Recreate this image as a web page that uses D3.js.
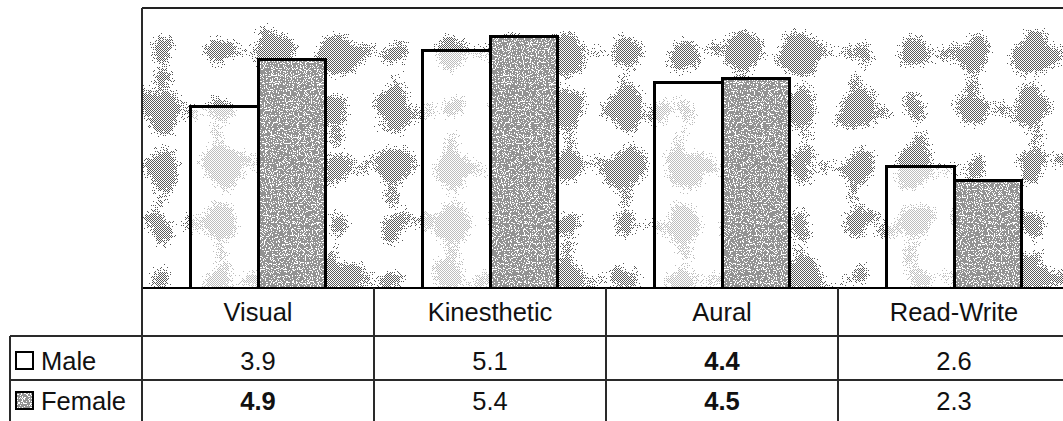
<!DOCTYPE html>
<html>
<head>
<meta charset="utf-8">
<script src="https://cdn.jsdelivr.net/npm/d3@7"></script>
<style>
  html, body { margin: 0; padding: 0; background: #fff; }
  svg { display: block; }
  text { font-family: "Liberation Sans", Arial, sans-serif; fill: #111; }
</style>
</head>
<body>
<svg id="chart" width="1063" height="421" shape-rendering="crispEdges"></svg>
<script>
// Learning-style scores by gender
const categories = ["Visual", "Kinesthetic", "Aural", "Read-Write"];
const seriesNames = ["Male", "Female"];
const maleValues = [3.9, 5.1, 4.4, 2.6];
const femaleValues = [4.9, 5.4, 4.5, 2.3];
const valueLabels = {
  Male: ["3.9", "5.1", "4.4", "2.6"],
  Female: ["4.9", "5.4", "4.5", "2.3"]
};
// value cells printed in heavier type
const boldCells = {
  Male: [false, false, true, false],
  Female: [true, false, true, false]
};
const yDomain = [0, 6];

const W = 1063, H = 421;
const plot = { left: 142, right: 1070, top: 8, bottom: 288 };
const table = { left: 10, headerBottom: 336, maleBottom: 380, bottom: 421 };

const svg = d3.select("#chart");
const defs = svg.append("defs");

// ---- textures ----
// 1px checkerboard used to dither the grey fills
const checker = defs.append("pattern").attr("id", "checker")
  .attr("patternUnits", "userSpaceOnUse").attr("width", 2).attr("height", 2);
checker.append("rect").attr("x", 0).attr("y", 0).attr("width", 1).attr("height", 1).attr("fill", "#fff");
checker.append("rect").attr("x", 1).attr("y", 1).attr("width", 1).attr("height", 1).attr("fill", "#fff");
defs.append("mask").attr("id", "ditherMask")
  .attr("maskUnits", "userSpaceOnUse").attr("x", 0).attr("y", 0).attr("width", W).attr("height", H)
  .append("rect").attr("x", 0).attr("y", 0).attr("width", W).attr("height", H)
  .attr("fill", "url(#checker)");

// mottled backdrop of the plot area
const bgF = defs.append("filter").attr("id", "mottle")
  .attr("filterUnits", "userSpaceOnUse")
  .attr("x", plot.left).attr("y", plot.top)
  .attr("width", plot.right - plot.left).attr("height", plot.bottom - plot.top);
bgF.append("feTurbulence").attr("type", "fractalNoise")
  .attr("baseFrequency", "0.04").attr("numOctaves", 2).attr("seed", 7).attr("result", "warp");
bgF.append("feDisplacementMap").attr("in", "SourceGraphic").attr("in2", "warp")
  .attr("scale", 30).attr("xChannelSelector", "R").attr("yChannelSelector", "G").attr("result", "blobs");
bgF.append("feGaussianBlur").attr("in", "blobs").attr("stdDeviation", 4).attr("result", "soft");
bgF.append("feTurbulence").attr("type", "fractalNoise")
  .attr("baseFrequency", "0.9").attr("numOctaves", 1).attr("seed", 3).attr("result", "grain");
bgF.append("feColorMatrix").attr("in", "grain").attr("type", "matrix")
  .attr("values", "0 0 0 0 0  0 0 0 0 0  0 0 0 0 0  3 0 0 0 -1").attr("result", "grainA");
bgF.append("feComposite").attr("in", "soft").attr("in2", "grainA").attr("operator", "arithmetic")
  .attr("k1", 0).attr("k2", 0.8).attr("k3", 0.5).attr("k4", -0.05).attr("result", "mix");
bgF.append("feComponentTransfer").attr("in", "mix").attr("result", "dots")
  .append("feFuncA").attr("type", "discrete").attr("tableValues", "0 0 1 1");
bgF.append("feFlood").attr("flood-color", "#5a5a5a").attr("result", "ink");
bgF.append("feComposite").attr("in", "ink").attr("in2", "dots").attr("operator", "in");

// grain used on the Female bars
const grainF = defs.append("filter").attr("id", "grain")
  .attr("x", 0).attr("y", 0).attr("width", 1).attr("height", 1);
grainF.append("feTurbulence").attr("type", "fractalNoise")
  .attr("baseFrequency", "0.85").attr("numOctaves", 1).attr("seed", 11).attr("result", "n");
grainF.append("feColorMatrix").attr("in", "n").attr("type", "matrix")
  .attr("values", "0 0 0 0 0  0 0 0 0 0  0 0 0 0 0  0 0 0 -2.2 1.45").attr("result", "nA");
grainF.append("feComponentTransfer").attr("in", "nA").attr("result", "speck")
  .append("feFuncA").attr("type", "discrete").attr("tableValues", "0 1");
grainF.append("feFlood").attr("flood-color", "#ffffff").attr("result", "w");
grainF.append("feComposite").attr("in", "w").attr("in2", "speck").attr("operator", "in").attr("result", "ws");
grainF.append("feComposite").attr("in", "ws").attr("in2", "SourceGraphic").attr("operator", "atop").attr("result", "lit");
grainF.append("feMerge").call(m => {
  m.append("feMergeNode").attr("in", "SourceGraphic");
  m.append("feMergeNode").attr("in", "lit");
});

const clip = defs.append("clipPath").attr("id", "plotClip");
clip.append("rect").attr("x", plot.left).attr("y", plot.top)
  .attr("width", W - plot.left).attr("height", plot.bottom - plot.top);

// ---- scales ----
const x = d3.scaleBand().domain(categories).range([plot.left, plot.right]).padding(0);
const xs = d3.scaleBand().domain(seriesNames).range([0, x.bandwidth()])
  .paddingInner(0).paddingOuter(0.706);
const y = d3.scaleLinear().domain(yDomain).range([plot.bottom, plot.top]);

const rows = categories.map((c, i) => ({ cat: c, Male: maleValues[i], Female: femaleValues[i] }));

// ---- plot backdrop ----
const plotG = svg.append("g").attr("clip-path", "url(#plotClip)");
plotG.append("rect").attr("x", plot.left).attr("y", plot.top)
  .attr("width", plot.right - plot.left).attr("height", plot.bottom - plot.top)
  .attr("fill", "#ffffff");

// lattice of blobs that the filter roughens into a mottled, dithered texture
const blobStepX = 58, blobStepY = 57;
const blobCols = d3.range(plot.left + 20, plot.right, blobStepX);
const blobRows = d3.range(plot.top + 45, plot.bottom + 20, blobStepY);
const blobWrap = plotG.append("g").attr("mask", "url(#ditherMask)");
const blobG = blobWrap.append("g").attr("filter", "url(#mottle)");
blobG.append("rect").attr("x", plot.left).attr("y", plot.top)
  .attr("width", plot.right - plot.left).attr("height", plot.bottom - plot.top)
  .attr("fill", "#000").attr("fill-opacity", 0);
blobRows.forEach((by, ri) => {
  blobCols.forEach((bx, ci) => {
    const k = (ri * 3 + ci * 5) % 4;
    const r = 9 + k * 3;
    blobG.append("ellipse").attr("cx", bx).attr("cy", by)
      .attr("rx", r).attr("ry", r * 1.15).attr("fill", "#000");
    if (k % 2 === 0) {
      blobG.append("ellipse").attr("cx", bx).attr("cy", by + blobStepY / 2)
        .attr("rx", 4).attr("ry", 11).attr("fill", "#000");
    } else {
      blobG.append("ellipse").attr("cx", bx + blobStepX / 2).attr("cy", by)
        .attr("rx", 11).attr("ry", 4).attr("fill", "#000");
    }
  });
});

// ---- bars ----
const groups = plotG.selectAll("g.cat").data(rows).join("g")
  .attr("class", "cat")
  .attr("transform", d => `translate(${x(d.cat)},0)`);

groups.selectAll("rect.bar")
  .data(d => seriesNames.map(s => ({ s, v: d[s] })))
  .join("rect")
  .attr("class", "bar")
  .attr("x", d => xs(d.s))
  .attr("y", d => y(d.v))
  .attr("width", xs.bandwidth())
  .attr("height", d => y(0) - y(d.v))
  .attr("fill", d => d.s === "Male" ? "#ffffff" : "#939393")
  .attr("fill-opacity", d => d.s === "Male" ? 0.6 : 1)
  .attr("filter", d => d.s === "Female" ? "url(#grain)" : null);

groups.selectAll("rect.outline")
  .data(d => seriesNames.map(s => ({ s, v: d[s] })))
  .join("rect")
  .attr("class", "outline")
  .attr("x", d => xs(d.s))
  .attr("y", d => y(d.v))
  .attr("width", xs.bandwidth())
  .attr("height", d => y(0) - y(d.v))
  .attr("fill", "none")
  .attr("stroke", "#000")
  .attr("stroke-width", 3);

// plot frame
svg.append("line").attr("x1", plot.left).attr("x2", W).attr("y1", plot.top).attr("y2", plot.top)
  .attr("stroke", "#222").attr("stroke-width", 2);
svg.append("line").attr("x1", plot.left).attr("x2", W).attr("y1", plot.bottom).attr("y2", plot.bottom)
  .attr("stroke", "#000").attr("stroke-width", 2);

// ---- data table ----
const tbl = svg.append("g");
const lineStyle = sel => sel.attr("stroke", "#2a2a2a").attr("stroke-width", 1.4);

tbl.append("line").attr("x1", plot.left).attr("x2", plot.left)
  .attr("y1", plot.top).attr("y2", H).call(lineStyle).attr("stroke-width", 2);
tbl.append("line").attr("x1", table.left).attr("x2", table.left)
  .attr("y1", table.headerBottom).attr("y2", H).call(lineStyle);
[table.headerBottom, table.maleBottom].forEach(yy => {
  tbl.append("line").attr("x1", table.left).attr("x2", W)
    .attr("y1", yy).attr("y2", yy).call(lineStyle);
});
categories.slice(1).forEach(c => {
  tbl.append("line").attr("x1", x(c)).attr("x2", x(c))
    .attr("y1", plot.bottom).attr("y2", H).call(lineStyle);
});

const fs = 25.5;
tbl.selectAll("text.head").data(categories).join("text")
  .attr("class", "head")
  .attr("x", d => x(d) + x.bandwidth() / 2)
  .attr("y", 321)
  .attr("text-anchor", "middle")
  .attr("font-size", fs)
  .text(d => d);

const rowBase = { Male: 370, Female: 410 };
seriesNames.forEach(s => {
  tbl.selectAll(`text.v${s}`).data(categories).join("text")
    .attr("class", `v${s}`)
    .attr("x", d => x(d) + x.bandwidth() / 2)
    .attr("y", rowBase[s])
    .attr("text-anchor", "middle")
    .attr("font-size", fs)
    .attr("font-weight", (d, i) => boldCells[s][i] ? "bold" : "normal")
    .text((d, i) => valueLabels[s][i]);

  // legend key and row name
  const keyY = rowBase[s] - 18;
  tbl.append("rect").attr("x", 16).attr("y", keyY).attr("width", 17).attr("height", 17)
    .attr("fill", s === "Male" ? "#ffffff" : "#939393")
    .attr("filter", s === "Female" ? "url(#grain)" : null);
  tbl.append("rect").attr("x", 16).attr("y", keyY).attr("width", 17).attr("height", 17)
    .attr("fill", "none").attr("stroke", "#000").attr("stroke-width", 2.5);
  tbl.append("text").attr("x", 41).attr("y", rowBase[s])
    .attr("font-size", fs).text(s);
});
</script>
</body>
</html>
